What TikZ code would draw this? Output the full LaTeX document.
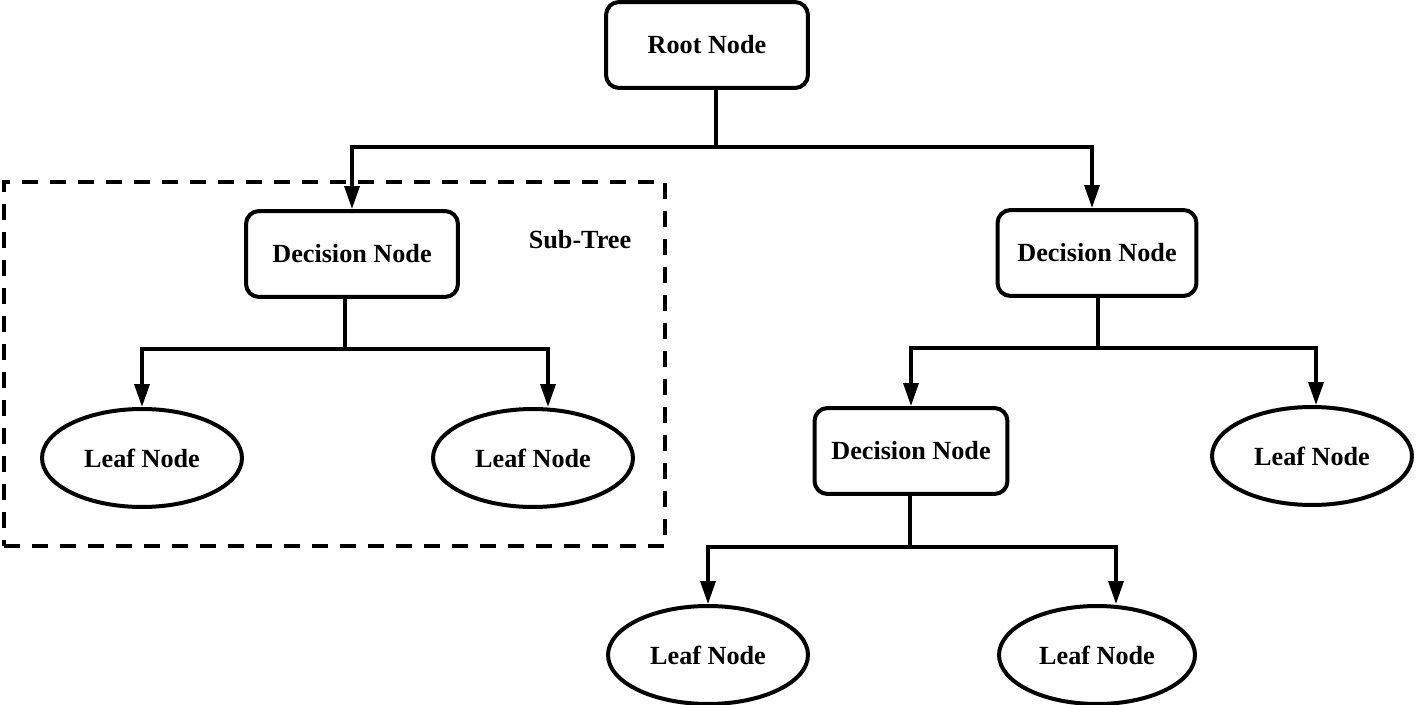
\documentclass[tikz,border=0pt]{standalone}
\usepackage{fontspec}
\setmainfont{Liberation Serif}
\usetikzlibrary{arrows.meta,shapes.geometric}
\begin{document}
\begin{tikzpicture}[x=0.02cm,y=-0.02cm,
  font=\fontsize{14.9}{17}\selectfont\bfseries,
  every path/.style={line width=0.07cm},
  dbox/.style={draw,rounded corners=0.26cm,inner sep=0,minimum height=1.72cm,line width=0.08cm},
  leaf/.style={draw,ellipse,inner sep=0,minimum width=4cm,minimum height=1.96cm,line width=0.08cm},
  arr/.style={-{Triangle[width=0.3cm,length=0.46cm]}},
  subtree/.style={draw,dash pattern=on 0.32cm off 0.24cm,line width=0.09cm}]
\useasboundingbox (0,0) rectangle (1416,705);
\node[dbox,minimum width=4.04cm] (root) at (707,45) {Root Node};
\node[dbox,minimum width=4.24cm] (dl) at (352,254) {Decision Node};
\node[dbox,minimum width=3.98cm] (dr) at (1097,253) {Decision Node};
\node[dbox,minimum width=3.86cm] (dm) at (911,451) {Decision Node};
\node[leaf] (l1) at (142,458) {Leaf Node};
\node[leaf] (l2) at (533,458) {Leaf Node};
\node[leaf] (l3) at (1312,456) {Leaf Node};
\node[leaf] (l4) at (708,655) {Leaf Node};
\node[leaf,minimum width=3.92cm] (l5) at (1097,655) {Leaf Node};
\node[subtree,minimum width=13.22cm,minimum height=7.28cm,inner sep=0] (st) at (334.5,364) {};
\node (stl) at (580,240) {Sub-Tree};
% root connectors
\coordinate (j1) at (716,147);
\draw (root.south -| j1) -- (j1);
\draw[arr] (j1) -| (dl.north);
\draw[arr] (j1) -| ([xshift=-0.1cm]dr.north);
% left decision
\coordinate (j2) at (345,349);
\draw (dl.south -| j2) -- (j2);
\draw[arr] (j2) -| (l1.north);
\draw[arr] (j2) -| ([xshift=0.3cm]l2.north);
% right decision
\coordinate (j3) at (1098,348);
\draw (dr.south -| j3) -- (j3);
\draw[arr] (j3) -| (dm.north);
\draw[arr] (j3) -| ([xshift=0.08cm]l3.north);
% middle decision
\coordinate (j4) at (910,547);
\draw (dm.south -| j4) -- (j4);
\draw[arr] (j4) -| (l4.north);
\draw[arr] (j4) -| ([xshift=0.38cm]l5.north);
\end{tikzpicture}
\end{document}
